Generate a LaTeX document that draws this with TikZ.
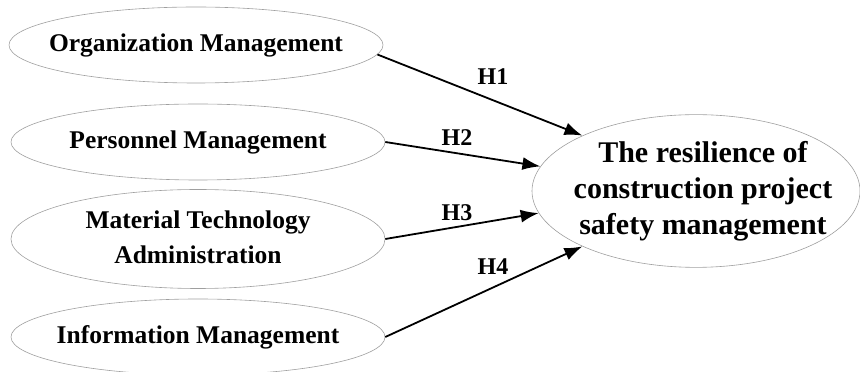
\documentclass[tikz,border=0pt]{standalone}
\usepackage{fontspec}
\setmainfont{Liberation Serif}
\usetikzlibrary{positioning, arrows.meta, shapes.geometric}
\newcommand{\inl}[1]{\makebox[0pt]{\begin{tabular}{@{}c@{}}#1\end{tabular}}}

\begin{document}
\begin{tikzpicture}
		[x=1pt,y=1pt,->,>={Latex[length=18pt,width=13pt]},line width=1.8pt,
		ell/.style={ellipse,draw=gray!75,line width=0.6pt,inner sep=0pt,minimum width=374pt,minimum height=76pt,font=\bfseries\fontsize{25.5}{35}\selectfont},
		lbl/.style={font=\bfseries\fontsize{24}{28}\selectfont}]
		\useasboundingbox (0,0) rectangle (860,372);
		\node[ell] (org) at (196,327) {\inl{Organization Management}};
		\node[ell] (pers) at (198,230) {\inl{Personnel Management}};
		\node[ell] (mat) at (198,133) {\inl{Material Technology\\Administration}};
		\node[ell] (info) at (198,35) {\inl{Information Management}};
		\node[ell,minimum width=328pt,minimum height=152pt,font=\bfseries\fontsize{30}{36}\selectfont] (res) at (696,181) {\inl{\hspace{14pt}The resilience of\\\hspace{14pt}construction project\\\hspace{14pt}safety management}};
		
		\node[lbl] (h1) at (493,295) {H1};
		\node[lbl] (h2) at (457,234) {H2};
		\node[lbl] (h3) at (457,159) {H3};
		\node[lbl] (h4) at (493,105) {H4};
		
		\path (org.-3) edge (res.154);
		\path (pers.east) edge (res.171);
		\path (mat.east) edge (res.188);
		\path (info.east) edge (res.206);
		
	\end{tikzpicture}
\end{document}
